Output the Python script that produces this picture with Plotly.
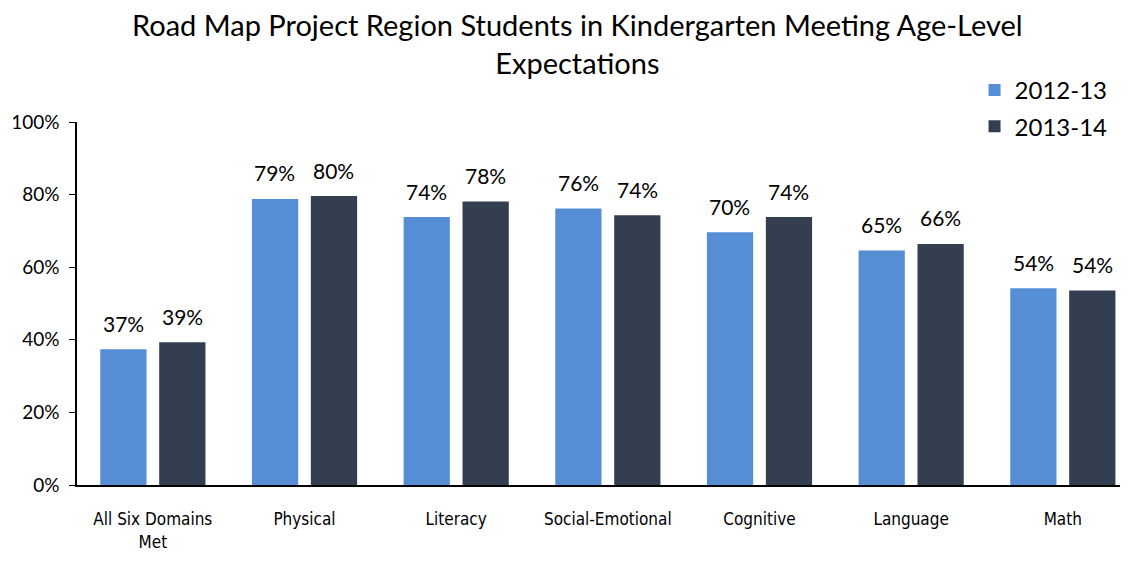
import plotly.graph_objects as go

categories = ["All Six Domains<br>Met", "Physical", "Literacy", "Social-Emotional",
              "Cognitive", "Language", "Math"]
pct_2012 = [37.4, 78.8, 73.8, 76.2, 69.6, 64.6, 54.2]
pct_2013 = [39.3, 79.6, 78.1, 74.3, 73.8, 66.4, 53.6]
series = [("2012-13", pct_2012, "#558ed5"), ("2013-14", pct_2013, "#333f50")]
title_text = "Road Map Project Region Students in Kindergarten Meeting Age-Level<br>Expectations"

font_main = "Lato, 'Noto Sans', sans-serif"
font_cond = "'DejaVu Sans Condensed', 'DejaVu Sans', sans-serif"

bar_w = 0.305
offsets = [-0.3465, 0.042]

fig = go.Figure()
for (name, vals, color), off in zip(series, offsets):
    fig.add_trace(go.Bar(
        x=categories,
        y=vals,
        name=name,
        legendgroup=name,
        width=bar_w,
        offset=off,
        marker=dict(color=color, line=dict(width=0)),
        hoverinfo="skip",
    ))

# value labels above each bar
shifts = [-29.5, 29.5]
for (name, vals, color), sh in zip(series, shifts):
    for cat, v in zip(categories, vals):
        fig.add_annotation(
            x=cat, y=v, text=f"{round(v)}%",
            showarrow=False, xshift=sh, yshift=26, yanchor="middle",
            font=dict(family=font_main, size=21, color="black"),
        )

# two-line title as a paper annotation
fig.add_annotation(
    text=title_text, xref="paper", yref="paper",
    x=0.4765, y=1.216, xanchor="center", yanchor="middle",
    showarrow=False, align="center",
    font=dict(family=font_main, size=29, color="black"),
)

# page body adds an 8px offset, so the figure is 8px smaller than the window
fig.update_layout(
    width=1120,
    height=558,
    paper_bgcolor="white",
    plot_bgcolor="white",
    margin=dict(l=69, r=0, t=114, b=81),
    barmode="group",
    legend=dict(
        x=0.854, y=1.149, xanchor="left", yanchor="top",
        font=dict(family=font_main, size=24, color="black"),
        itemwidth=30, traceorder="grouped", tracegroupgap=2,
    ),
    showlegend=True,
)

fig.update_xaxes(
    range=[-0.5, 6.43],
    showline=True, linecolor="black", linewidth=2,
    ticks="", showgrid=False,
    tickfont=dict(family=font_cond, size=17, color="black"),
    ticklabelstandoff=18,
)
fig.update_yaxes(
    range=[0, 100],
    tickvals=[0, 20, 40, 60, 80, 100],
    ticktext=["0%", "20%", "40%", "60%", "80%", "100%"],
    showline=True, linecolor="black", linewidth=1.5,
    ticks="outside", ticklen=6, tickcolor="black",
    showgrid=False, zeroline=False,
    tickfont=dict(family=font_main, size=19, color="black"),
    ticklabelstandoff=6,
)

fig.write_html("out.html")
